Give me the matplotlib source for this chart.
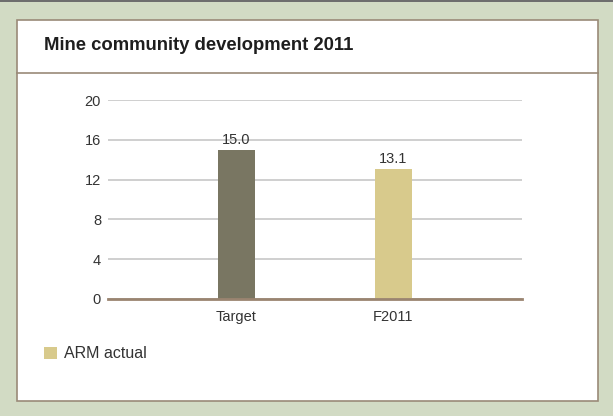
import matplotlib.pyplot as plt
from matplotlib.patches import Rectangle
from matplotlib.lines import Line2D

# data
categories = ["Target", "F2011"]
values = [15.0, 13.1]
bar_colors = ["#797662", "#D8CA8C"]
y_ticks = [0, 4, 8, 12, 16, 20]
legend_label = "ARM actual"
title = "Mine community development 2011"

W, H = 613, 416
fig = plt.figure(figsize=(W / 100, H / 100), dpi=100)
fig.patch.set_facecolor("#D2DBC4")

def px(x, y):
    return x / W, 1 - y / H

# top dark strip
fig.add_artist(Rectangle((0, 1 - 2 / H), 1, 2 / H, transform=fig.transFigure,
                         facecolor="#6E6E6E", edgecolor="none", zorder=-2))
# white panel
x0, y0 = px(17, 401)
fig.add_artist(Rectangle((x0, y0), (598 - 17) / W, (401 - 20) / H, transform=fig.transFigure,
                         facecolor="white", edgecolor="#9A8A78", linewidth=1.2, zorder=-2))
# title separator
fig.add_artist(Line2D([17 / W, 598 / W], [1 - 73 / H] * 2, transform=fig.transFigure,
                      color="#9A8A78", linewidth=1.2, zorder=-1))
fig.text(43.5 / W, 1 - 46 / H, title, fontsize=13.3, fontweight="bold",
         family=["Liberation Sans", "DejaVu Sans"], color="#1E1E1E", va="center")

font = ["Liberation Sans Narrow", "Liberation Sans", "DejaVu Sans"]
fs = 10.5

ax = fig.add_axes([108 / W, 1 - 299 / H, (522 - 108) / W, (299 - 100) / H])
ax.set_zorder(5)
ax.set_facecolor("none")
xs = list(range(len(categories)))
bars = ax.bar(xs, values, width=0.236, color=bar_colors, zorder=3)
ax.set_xlim(-0.815, 1.82)
ax.set_ylim(0, 20)
ax.set_yticks(y_ticks)
ax.set_yticklabels([str(t) for t in y_ticks], family=font, fontsize=fs, color="#333333")
ax.set_xticks(xs)
ax.set_xticklabels(categories, family=font, fontsize=fs, color="#333333")
ax.tick_params(length=0)
ax.tick_params(axis="y", pad=5)
ax.tick_params(axis="x", pad=8)
ax.grid(axis="y", color="#CCCCCC", linewidth=1.3, zorder=0)
for s in ["top", "right", "left"]:
    ax.spines[s].set_visible(False)
ax.spines["bottom"].set_color("#9A8470")
ax.spines["bottom"].set_linewidth(2)
ax.spines["bottom"].set_zorder(4)

for b, v in zip(bars, values):
    ax.text(b.get_x() + b.get_width() / 2, v + 0.3, f"{v:.1f}", ha="center", va="bottom",
            family=font, fontsize=fs, color="#333333")

# legend
lx, ly = px(44, 359)
fig.add_artist(Rectangle((lx, ly), 13.5 / W, 12 / H, transform=fig.transFigure,
                         facecolor=bar_colors[1], edgecolor="none"))
fig.text(64 / W, 1 - 353 / H, legend_label, family=["Liberation Sans", "DejaVu Sans"],
         fontsize=11.5, color="#333333", va="center")

fig.savefig("out.png", dpi=100, facecolor=fig.get_facecolor())
